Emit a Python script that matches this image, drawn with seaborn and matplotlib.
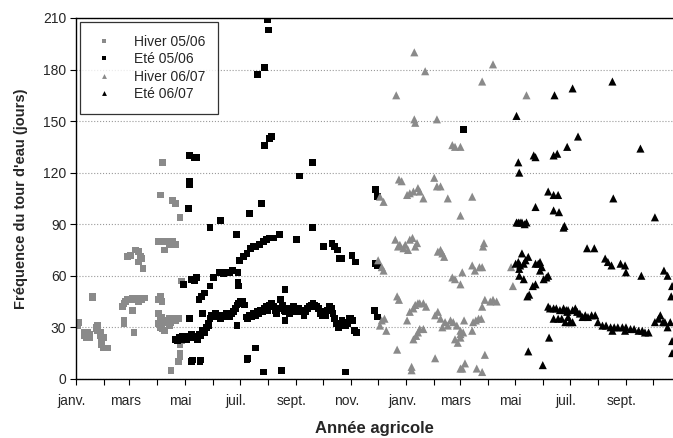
import pandas as pd
import seaborn as sns
import matplotlib.pyplot as plt
import matplotlib.dates as mdates
import matplotlib.transforms as mtransforms
from matplotlib.ticker import FuncFormatter

# jour = nombre de jours depuis le 1er janvier 2006, valeur = fréquence (jours)
hiver_0506 = [(1, 32), (1, 33), (2, 31), (3, 33), (9, 27), (9, 25), (11, 26), (11, 24), (13, 25), (13, 27),
              (15, 26), (15, 24), (18, 47), (18, 48), (22, 30), (22, 29), (24, 31), (24, 28), (27, 27), (27, 25),
              (28, 22), (28, 20), (30, 24), (30, 18), (35, 18), (51, 42), (53, 44), (53, 34), (53, 32), (55, 45),
              (57, 71), (57, 46), (60, 72), (62, 47), (62, 40), (64, 27), (64, 46), (66, 47), (66, 75), (69, 74),
              (69, 45), (69, 68), (71, 71), (71, 47), (73, 70), (73, 46), (74, 64), (76, 47), (91, 32), (91, 38),
              (91, 46), (91, 80), (93, 107), (93, 80), (93, 35), (93, 30), (93, 48), (95, 29), (95, 36), (95, 45),
              (96, 126), (98, 75), (98, 33), (98, 28), (101, 80), (101, 34), (103, 78), (103, 31), (103, 35),
              (105, 5), (105, 79), (105, 33), (107, 104), (107, 80), (110, 102), (110, 78), (110, 34), (111, 35),
              (113, 10), (113, 35), (115, 94), (115, 15), (115, 20), (115, 13), (117, 22), (117, 24), (117, 57),
              (119, 23)]

ete_0506 = [(212, 209), (213, 203), (208, 181), (201, 177), (216, 141), (214, 140), (208, 136), (125, 130),
            (131, 129), (133, 129), (125, 115), (125, 113), (247, 118), (261, 126), (124, 99), (205, 102),
            (192, 96), (148, 88), (160, 92), (177, 84), (225, 84), (244, 81), (261, 88), (274, 77), (283, 79),
            (286, 77), (289, 75), (291, 70), (294, 70), (305, 72), (309, 68), (428, 145),
            (152, 59), (159, 62), (163, 61), (166, 62), (170, 62), (173, 63), (179, 62), (181, 69), (185, 71),
            (189, 73), (193, 76), (196, 77), (199, 77), (203, 78), (207, 80), (211, 81), (214, 82), (218, 82),
            (148, 54), (142, 50), (139, 48), (136, 46), (140, 38), (147, 31), (125, 35), (119, 55), (128, 58),
            (131, 57), (133, 59), (179, 56), (180, 54), (178, 31), (128, 10), (129, 11), (137, 10), (138, 11),
            (189, 11), (190, 12), (198, 18), (207, 4), (227, 5), (231, 52), (226, 46), (231, 34),
            (331, 110), (333, 106), (331, 67), (333, 66), (330, 40), (333, 36), (298, 4),
            (110, 23), (112, 22), (114, 24), (116, 23), (118, 25), (120, 24), (122, 23), (124, 25), (126, 24),
            (128, 26), (130, 24), (132, 25), (134, 23), (136, 26), (138, 25), (140, 28), (142, 27), (144, 30),
            (146, 32), (148, 35), (150, 37), (152, 36), (154, 38), (156, 36), (158, 37), (160, 35), (162, 37),
            (164, 36), (166, 38), (168, 37), (170, 36), (172, 38), (174, 39), (176, 41), (178, 43), (180, 44),
            (182, 45), (184, 45), (186, 43), (188, 36), (190, 35), (192, 37), (194, 36), (196, 38), (198, 37),
            (200, 39), (202, 38), (204, 40), (206, 39), (208, 41), (210, 42), (212, 40), (214, 43), (216, 44),
            (218, 42), (220, 40), (222, 38), (224, 41), (228, 43), (230, 40), (232, 39), (234, 41), (236, 38),
            (238, 40), (240, 42), (242, 39), (244, 40), (246, 41), (248, 39), (250, 40), (252, 37), (254, 39),
            (256, 41), (258, 42), (260, 43), (262, 44), (264, 43), (266, 42), (268, 41), (270, 38), (272, 37),
            (274, 39), (276, 37), (278, 40), (280, 42), (282, 41), (284, 38), (286, 35), (288, 32), (290, 30),
            (292, 31), (294, 34), (296, 33), (298, 31), (300, 32), (302, 35), (304, 35), (306, 34), (308, 28),
            (310, 27)]

hiver_0607 = [(334, 69), (338, 65), (340, 63), (340, 103), (336, 106), (338, 34), (336, 31), (341, 35),
              (343, 28), (374, 190), (386, 179), (354, 165), (374, 151), (375, 149), (399, 151), (416, 136),
              (419, 135), (425, 135), (357, 116), (360, 115), (366, 107), (369, 108), (373, 109), (378, 111),
              (380, 109), (384, 105), (396, 117), (399, 112), (403, 112), (411, 105), (425, 95), (438, 106),
              (461, 183), (449, 173), (498, 165), (353, 81), (356, 77), (358, 78), (362, 76), (364, 78),
              (367, 75), (369, 81), (372, 82), (375, 77), (377, 79), (400, 74), (403, 75), (405, 73), (407, 71),
              (416, 59), (419, 58), (425, 55), (427, 62), (450, 77), (451, 79), (438, 66), (441, 63), (446, 65),
              (449, 65), (452, 46), (458, 45), (461, 46), (465, 45), (449, 42), (355, 48), (357, 46),
              (366, 34), (369, 39), (373, 41), (375, 43), (378, 44), (380, 44), (384, 44), (387, 42), (373, 23),
              (376, 25), (378, 27), (380, 29), (384, 29), (397, 37), (400, 39), (403, 35), (405, 30), (408, 33),
              (411, 31), (414, 34), (417, 33), (421, 31), (419, 23), (422, 21), (425, 26), (428, 27), (429, 34),
              (439, 33), (442, 34), (445, 35), (448, 35), (438, 28), (425, 28), (425, 24), (355, 17), (397, 12),
              (371, 7), (371, 5), (425, 6), (452, 14), (430, 9), (427, 6), (443, 6), (449, 4), (481, 65),
              (483, 54)]

ete_0607 = [(487, 153), (529, 165), (549, 169), (543, 135), (489, 126), (490, 120), (506, 130), (508, 129),
            (528, 130), (532, 131), (522, 109), (528, 107), (533, 107), (508, 100), (528, 98), (534, 97),
            (539, 88), (593, 173), (555, 141), (624, 134), (594, 105), (640, 94), (487, 91), (489, 91),
            (491, 91), (493, 91), (496, 90), (498, 91), (493, 73), (500, 71), (486, 67), (489, 68), (491, 66),
            (495, 67), (497, 69), (508, 67), (511, 67), (513, 68), (515, 65), (513, 63), (490, 64), (490, 60),
            (495, 58), (508, 55), (505, 54), (517, 58), (520, 59), (522, 60), (499, 48), (501, 49),
            (522, 42), (524, 41), (528, 41), (531, 41), (535, 40), (539, 41), (542, 40), (544, 40), (528, 35),
            (533, 35), (537, 35), (541, 33), (544, 36), (546, 33), (543, 39), (549, 40), (552, 41), (554, 39),
            (557, 38), (560, 36), (563, 37), (566, 36), (570, 37), (574, 37), (549, 33), (577, 33), (582, 31),
            (586, 31), (591, 30), (595, 30), (599, 30), (604, 30), (608, 30), (613, 29), (617, 29), (622, 28),
            (626, 28), (629, 27), (633, 27), (593, 28), (607, 28), (640, 33), (644, 35), (646, 37), (649, 33),
            (651, 33), (654, 30), (657, 33), (565, 76), (573, 76), (585, 70), (588, 68), (592, 66), (602, 67),
            (607, 66), (608, 62), (625, 60), (650, 63), (654, 60), (659, 54), (658, 48), (540, 89), (659, 22),
            (659, 15), (523, 24), (500, 16), (516, 8)]

saisons = ["Hiver 05/06", "Eté 05/06", "Hiver 06/07", "Eté 06/07"]
mois = {1: "janv.", 3: "mars", 5: "mai", 7: "juil.", 9: "sept.", 11: "nov."}
debut = pd.Timestamp("2006-01-01")

frames = []
for nom, pts in zip(saisons, [hiver_0506, ete_0506, hiver_0607, ete_0607]):
    d = pd.DataFrame(pts, columns=["jour", "freq"])
    d["saison"] = nom
    frames.append(d)
df = pd.concat(frames, ignore_index=True)
df["date"] = debut + pd.to_timedelta(df["jour"], unit="D")

sns.set_style("ticks")
plt.rcParams["font.family"] = ["Liberation Sans", "DejaVu Sans"]

fig = plt.figure(figsize=(6.73, 4.38), dpi=100)
ax = fig.add_axes([0.113, 0.135, 0.887, 0.824])

gris = "#8a8a8a"
palette = {"Hiver 05/06": gris, "Eté 05/06": "black", "Hiver 06/07": gris, "Eté 06/07": "black"}
markers = {"Hiver 05/06": "s", "Eté 05/06": "s", "Hiver 06/07": "^", "Eté 06/07": "^"}
sizes = {"Hiver 05/06": 24, "Eté 05/06": 24, "Hiver 06/07": 34, "Eté 06/07": 34}

sns.scatterplot(data=df, x="date", y="freq", hue="saison", style="saison", size="saison",
                hue_order=saisons, style_order=saisons, size_order=saisons,
                palette=palette, markers=markers, sizes=sizes, linewidth=0, ax=ax)

ax.set_xlim(debut, debut + pd.Timedelta(days=660))
ax.set_ylim(0, 210)
ax.set_yticks(range(0, 211, 30))
ax.yaxis.grid(True, linestyle=":", color="#9a9a9a", linewidth=0.8)

ax.xaxis.set_major_locator(mdates.MonthLocator())
ax.xaxis.set_major_formatter(FuncFormatter(lambda x, pos: mois.get(mdates.num2date(x).month, "")))
ax.tick_params(direction="out", length=4, width=0.8, color="black", labelsize=10)
ax.tick_params(axis="x", pad=7)
ax.tick_params(axis="y", pad=3)
decal = mtransforms.ScaledTranslation(-4 / 100, 0, fig.dpi_scale_trans)
for lab in ax.get_xticklabels():
    lab.set_transform(lab.get_transform() + decal)

for s in ["left", "bottom", "top"]:
    ax.spines[s].set_color("black")
    ax.spines[s].set_linewidth(1)
ax.spines["right"].set_visible(False)

ax.set_xlabel("Année agricole", fontweight="bold", fontsize=12, labelpad=9)
ax.set_ylabel("Fréquence du tour d'eau (jours)", fontweight="bold", fontsize=10.5, labelpad=11)

leg = ax.legend(loc="upper left", fontsize=10, frameon=True, fancybox=False, edgecolor="black",
                borderaxespad=0.3, borderpad=0.9, handletextpad=1.4, labelspacing=0.25, markerscale=0.6,
                handlelength=1.6)
leg.get_frame().set_linewidth(0.9)

fig.savefig("out.png", dpi=100)
